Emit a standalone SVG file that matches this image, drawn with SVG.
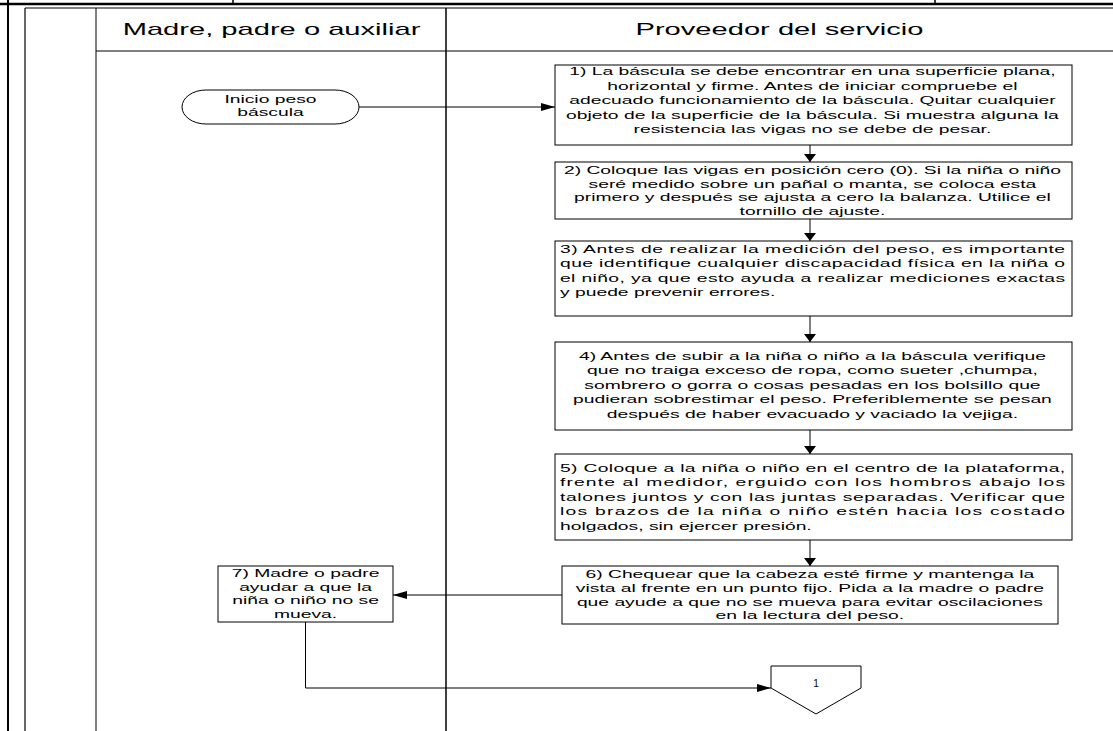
<svg xmlns="http://www.w3.org/2000/svg" width="1113" height="731" viewBox="0 0 1113 731">
<style>
.ln{stroke:#000;fill:none}
.box{fill:#fff;stroke:#000;stroke-width:1}
.t{font-family:"Liberation Sans",Arial,sans-serif;font-size:10.6px;fill:#000;text-anchor:middle}
.tl{font-family:"Liberation Sans",Arial,sans-serif;font-size:10.6px;fill:#000}
.h{font-family:"Liberation Sans",Arial,sans-serif;font-size:16px;fill:#000;text-anchor:middle}
.c{stroke:#000;stroke-width:1;fill:none}
.ch{marker-end:url(#arrH)}
.cv{marker-end:url(#arrV)}
</style>
<defs>
<marker id="arrH" viewBox="0 0 14 8" refX="14" refY="4" markerWidth="14" markerHeight="8" markerUnits="userSpaceOnUse" orient="auto">
<path d="M0,0 L14,4 L0,8 Z" fill="#000"/>
</marker>
<marker id="arrV" viewBox="0 0 8 12" refX="8" refY="6" markerWidth="8" markerHeight="12" markerUnits="userSpaceOnUse" orient="auto">
<path d="M0,0 L8,6 L0,12 Z" fill="#000"/>
</marker>
</defs>
<rect width="1113" height="731" fill="#fff"/>
<g id="frame">
<line class="ln" x1="0" y1="4" x2="1113" y2="4" stroke-width="2.5"/>
<line class="ln" x1="8" y1="0" x2="8" y2="731" stroke-width="2"/>
<line class="ln" x1="233" y1="0" x2="233" y2="4" stroke-width="1.5"/>
<line class="ln" x1="935" y1="0" x2="935" y2="4" stroke-width="1.5"/>
<line class="ln" x1="25" y1="8" x2="1113" y2="8" stroke-width="1.2"/>
<line class="ln" x1="25" y1="8" x2="25" y2="731" stroke-width="1.2"/>
<line class="ln" x1="96" y1="8" x2="96" y2="731" stroke-width="1"/>
<line class="ln" x1="446" y1="8" x2="446" y2="731" stroke-width="1.5"/>
<line class="ln" x1="96" y1="51" x2="1113" y2="51" stroke-width="1"/>
</g>
<g id="lane-headers" transform="scale(1.82 1)">
<text class="h" x="149.2" y="35">Madre, padre o auxiliar</text>
<text class="h" x="428.3" y="35">Proveedor del servicio</text>
</g>
<g id="connectors">
<path class="c ch" d="M359,107 H555"/>
<path class="c cv" d="M810,145 V162"/>
<path class="c cv" d="M810,219 V241"/>
<path class="c cv" d="M810,316 V342"/>
<path class="c cv" d="M810,430 V454"/>
<path class="c cv" d="M810,540 V566"/>
<path class="c ch" d="M562,595 H393"/>
<path class="c ch" d="M305.5,622 V688 H771"/>
</g>
<g id="start">
<path class="box" d="M206,90 H335 A24,17 0 0 1 335,124 H206 A24,17 0 0 1 206,90 Z"/>
<g transform="scale(1.82 1)">
<text class="t" x="148.6" y="103.5">Inicio peso</text>
<text class="t" x="148.6" y="116.5">báscula</text>
</g>
</g>
<g id="step1">
<rect class="box" x="555" y="65" width="517" height="80"/>
<g transform="scale(1.82 1)">
<text class="t" x="446.4" y="75.5">1) La báscula se debe encontrar en una superficie plana,</text>
<text class="t" x="446.4" y="90">horizontal y firme. Antes de iniciar compruebe el</text>
<text class="t" x="446.4" y="104.5">adecuado funcionamiento de la báscula. Quitar cualquier</text>
<text class="t" x="446.4" y="119">objeto de la superficie de la báscula. Si muestra alguna la</text>
<text class="t" x="446.4" y="133.5">resistencia las vigas no se debe de pesar.</text>
</g>
</g>
<g id="step2">
<rect class="box" x="555" y="162" width="517" height="57"/>
<g transform="scale(1.82 1)">
<text class="t" x="446.4" y="174.5">2) Coloque las vigas en posición cero (0). Si la niña o niño</text>
<text class="t" x="446.4" y="188">seré medido sobre un pañal o manta, se coloca esta</text>
<text class="t" x="446.4" y="201.5">primero y después se ajusta a cero la balanza. Utilice el</text>
<text class="t" x="446.4" y="215">tornillo de ajuste.</text>
</g>
</g>
<g id="step3">
<rect class="box" x="555" y="241" width="517" height="75"/>
<g transform="scale(1.82 1)">
<text class="tl" x="307.7" y="253" textLength="277.5" lengthAdjust="spacing">3) Antes de realizar la medición del peso, es importante</text>
<text class="tl" x="307.7" y="267.5" textLength="277.5" lengthAdjust="spacing">que identifique cualquier discapacidad física en la niña o</text>
<text class="tl" x="307.7" y="282" textLength="277.5" lengthAdjust="spacing">el niño, ya que esto ayuda a realizar mediciones exactas</text>
<text class="tl" x="307.7" y="296.5">y puede prevenir errores.</text>
</g>
</g>
<g id="step4">
<rect class="box" x="555" y="342" width="517" height="88"/>
<g transform="scale(1.82 1)">
<text class="t" x="446.4" y="360">4) Antes de subir a la niña o niño a la báscula verifique</text>
<text class="t" x="446.4" y="374.5">que no traiga exceso de ropa, como sueter ,chumpa,</text>
<text class="t" x="446.4" y="389">sombrero o gorra o cosas pesadas en los bolsillo que</text>
<text class="t" x="446.4" y="403.5">pudieran sobrestimar el peso. Preferiblemente se pesan</text>
<text class="t" x="446.4" y="418">después de haber evacuado y vaciado la vejiga.</text>
</g>
</g>
<g id="step5">
<rect class="box" x="555" y="454" width="517" height="86"/>
<g transform="scale(1.82 1)">
<text class="tl" x="307.7" y="472" textLength="277.5" lengthAdjust="spacing">5) Coloque a la niña o niño en el centro de la plataforma,</text>
<text class="tl" x="307.7" y="486.5" textLength="277.5" lengthAdjust="spacing">frente al medidor, erguido con los hombros abajo los</text>
<text class="tl" x="307.7" y="501" textLength="277.5" lengthAdjust="spacing">talones juntos y con las juntas separadas. Verificar que</text>
<text class="tl" x="307.7" y="515.5" textLength="277.5" lengthAdjust="spacing">los brazos de la niña o niño estén hacia los costado</text>
<text class="tl" x="307.7" y="530">holgados, sin ejercer presión.</text>
</g>
</g>
<g id="step6">
<rect class="box" x="562" y="566" width="496" height="58"/>
<g transform="scale(1.82 1)">
<text class="t" x="445" y="578">6) Chequear que la cabeza esté firme y mantenga la</text>
<text class="t" x="445" y="592">vista al frente en un punto fijo. Pida a la madre o padre</text>
<text class="t" x="445" y="606">que ayude a que no se mueva para evitar oscilaciones</text>
<text class="t" x="445" y="619.5">en la lectura del peso.</text>
</g>
</g>
<g id="step7">
<rect class="box" x="218" y="566" width="175" height="56"/>
<g transform="scale(1.82 1)">
<text class="t" x="167.9" y="577.5">7) Madre o padre</text>
<text class="t" x="167.9" y="591">ayudar a que la</text>
<text class="t" x="167.9" y="604.5">niña o niño no se</text>
<text class="t" x="167.9" y="618">mueva.</text>
</g>
</g>
<g id="offpage-1">
<polygon class="box" points="771,666 861,666 861,688 816,714 771,688"/>
<text class="t" x="816" y="687" style="font-size:10px">1</text>
</g>
</svg>
